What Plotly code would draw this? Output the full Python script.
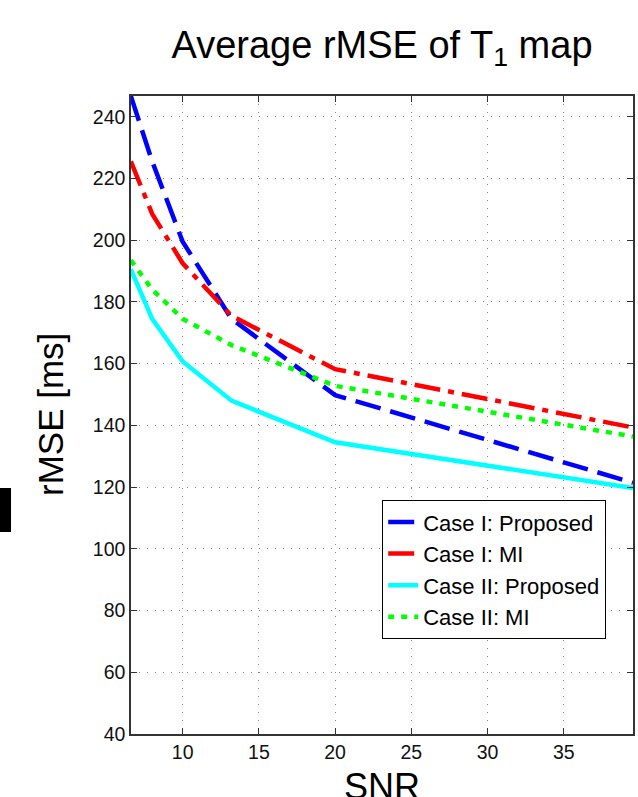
import plotly.graph_objects as go

snr = [6.6, 8, 10, 13.2, 20, 39.54]
case1_proposed = [246.7, 225.5, 199.5, 174.5, 149.8, 121.4]
case1_mi = [225.5, 208.5, 192.5, 175.5, 158.2, 139.3]
case2_proposed = [190.5, 174.5, 160.7, 148.0, 134.5, 119.7]
case2_mi = [193.5, 184.0, 174.5, 166.0, 152.8, 136.4]

x_ticks = [10, 15, 20, 25, 30, 35]
y_ticks = [40, 60, 80, 100, 120, 140, 160, 180, 200, 220, 240]

FONT = "Liberation Sans, Arial, Helvetica, sans-serif"

fig = go.Figure()
fig.add_trace(go.Scatter(x=snr, y=case1_proposed, mode="lines", name="Case I: Proposed",
                         line=dict(color="#0000FF", width=4.5, dash="26px,10px")))
fig.add_trace(go.Scatter(x=snr, y=case1_mi, mode="lines", name="Case I: MI",
                         line=dict(color="#FF0000", width=4.5, dash="26px,8px,6px,8px")))
fig.add_trace(go.Scatter(x=snr, y=case2_proposed, mode="lines", name="Case II: Proposed",
                         line=dict(color="#00FFFF", width=4.5)))
fig.add_trace(go.Scatter(x=snr, y=case2_mi, mode="lines", name="Case II: MI",
                         line=dict(color="#00FF00", width=4.5, dash="6px,7px")))

axis_common = dict(
    showline=True, linecolor="#333333", linewidth=1.5, mirror="ticks",
    ticks="inside", ticklen=6, tickcolor="#333333", tickwidth=1,
    showgrid=True, gridcolor="#888888", gridwidth=1, griddash="1px,7px",
    zeroline=False, tickfont=dict(family=FONT, size=19.5, color="#111111"),
    automargin=False,
)

fig.update_xaxes(range=[6.61, 39.54], tickvals=x_ticks, **axis_common)
fig.update_yaxes(range=[40, 246.7], tickvals=y_ticks, **axis_common)

fig.update_layout(
    width=638, height=797,
    margin=dict(l=131, r=5, t=96, b=63, autoexpand=False),
    paper_bgcolor="white", plot_bgcolor="white",
    title=dict(text="Average rMSE of T<sub>1</sub> map", x=(131 + 633) / 2 / 638, xanchor="center",
               y=1 - 45 / 797, yanchor="middle", yref="container",
               font=dict(family=FONT, size=38, color="#000000")),
    legend=dict(x=(606 - 131) / 502, xanchor="right", y=(734 - 500) / 638, yanchor="top",
                bgcolor="white", bordercolor="#000000", borderwidth=1.2,
                font=dict(family=FONT, size=22, color="#000000"),
                tracegroupgap=0),
    showlegend=True,
)

# axis titles
fig.add_annotation(text="SNR", xref="paper", yref="paper", x=0.5, y=(734 - 764) / 638,
                   xanchor="center", yanchor="top", showarrow=False,
                   font=dict(family=FONT, size=36, color="#000000"))
fig.add_annotation(text="rMSE [ms]", xref="paper", yref="paper", x=(50 - 131) / 502, y=0.5,
                   xanchor="center", yanchor="middle", textangle=-90, showarrow=False,
                   font=dict(family=FONT, size=35, color="#000000"))

fig.add_shape(type="rect", xref="paper", yref="paper",
              x0=(0 - 131) / 502, x1=(11 - 131) / 502,
              y0=(734 - 532) / 638, y1=(734 - 488) / 638,
              fillcolor="#000000", line=dict(width=0))

fig.write_html("out.html", config={"displayModeBar": False},
               post_script="document.body.style.margin='0';document.body.style.padding='0';")
